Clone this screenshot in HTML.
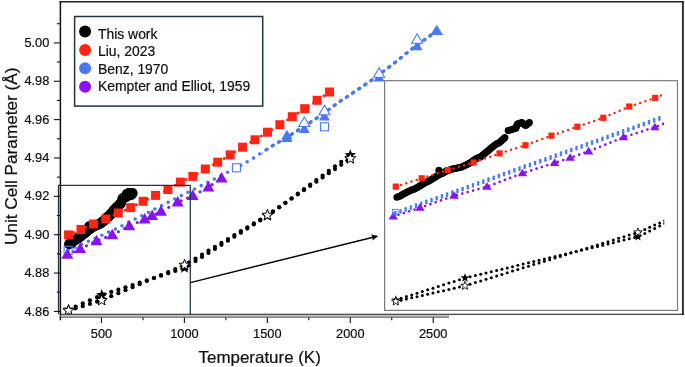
<!DOCTYPE html>
<html><head><meta charset="utf-8"><style>
html,body{margin:0;padding:0;background:#fff;}
svg{display:block;will-change:transform;}
text{font-family:"Liberation Sans",sans-serif;fill:#111;stroke:#111;stroke-width:0.22px;}
.tl{font-size:12.8px;}
.at{font-size:16.5px;}
.lg{font-size:13.9px;}
</style></head><body>
<svg width="685" height="367" viewBox="0 0 685 367">
<defs><clipPath id="cm"><rect x="60" y="2" width="622" height="312"/></clipPath><clipPath id="cb"><rect x="262" y="0" width="200" height="200"/></clipPath><clipPath id="ci"><rect x="385.2" y="81.3" width="279" height="228.5"/></clipPath><marker id="ah" viewBox="0 0 10 10" refX="8.5" refY="5" markerUnits="userSpaceOnUse" markerWidth="6.5" markerHeight="6.5" orient="auto"><path d="M0 0.3 L10 5 L0 9.7 L1.5 5 z" fill="#000"/></marker></defs>
<g clip-path="url(#cm)">
<circle cx="68.56" cy="309.63" r="2.1" fill="#000"/><circle cx="68.56" cy="310.59" r="2.1" fill="#000"/><circle cx="75.67" cy="306.51" r="2.1" fill="#000"/><circle cx="75.67" cy="308.37" r="2.1" fill="#000"/><circle cx="82.79" cy="303.39" r="2.1" fill="#000"/><circle cx="82.79" cy="306.16" r="2.1" fill="#000"/><circle cx="89.91" cy="300.27" r="2.1" fill="#000"/><circle cx="89.91" cy="303.94" r="2.1" fill="#000"/><circle cx="97.02" cy="297.15" r="2.1" fill="#000"/><circle cx="97.02" cy="301.72" r="2.1" fill="#000"/><circle cx="104.14" cy="294.3" r="2.1" fill="#000"/><circle cx="104.14" cy="299.23" r="2.1" fill="#000"/><circle cx="111.25" cy="291.97" r="2.1" fill="#000"/><circle cx="111.25" cy="296.21" r="2.1" fill="#000"/><circle cx="118.36" cy="289.64" r="2.1" fill="#000"/><circle cx="118.36" cy="293.19" r="2.1" fill="#000"/><circle cx="125.48" cy="287.31" r="2.1" fill="#000"/><circle cx="125.48" cy="290.17" r="2.1" fill="#000"/><circle cx="132.59" cy="284.98" r="2.1" fill="#000"/><circle cx="132.59" cy="287.15" r="2.1" fill="#000"/><circle cx="139.7" cy="282.65" r="2.1" fill="#000"/><circle cx="139.7" cy="284.13" r="2.1" fill="#000"/><circle cx="146.82" cy="280.32" r="2.1" fill="#000"/><circle cx="146.82" cy="281.11" r="2.1" fill="#000"/><circle cx="153.93" cy="277.99" r="2.1" fill="#000"/><circle cx="153.93" cy="278.09" r="2.1" fill="#000"/><circle cx="161.04" cy="275.66" r="2.1" fill="#000"/><circle cx="161.04" cy="275.07" r="2.1" fill="#000"/><circle cx="168.16" cy="273.33" r="2.1" fill="#000"/><circle cx="168.16" cy="272.05" r="2.1" fill="#000"/><circle cx="175.27" cy="271" r="2.1" fill="#000"/><circle cx="175.27" cy="269.03" r="2.1" fill="#000"/><circle cx="182.39" cy="268.67" r="2.1" fill="#000"/><circle cx="182.39" cy="266.01" r="2.1" fill="#000"/><circle cx="189.06" cy="265.13" r="2.1" fill="#000"/><circle cx="189.06" cy="262.38" r="2.1" fill="#000"/><circle cx="195.53" cy="261.07" r="2.1" fill="#000"/><circle cx="195.53" cy="258.48" r="2.1" fill="#000"/><circle cx="202" cy="257.01" r="2.1" fill="#000"/><circle cx="202" cy="254.58" r="2.1" fill="#000"/><circle cx="208.48" cy="252.95" r="2.1" fill="#000"/><circle cx="208.48" cy="250.68" r="2.1" fill="#000"/><circle cx="214.95" cy="248.88" r="2.1" fill="#000"/><circle cx="214.95" cy="246.79" r="2.1" fill="#000"/><circle cx="221.43" cy="244.82" r="2.1" fill="#000"/><circle cx="221.43" cy="242.89" r="2.1" fill="#000"/><circle cx="227.9" cy="240.76" r="2.1" fill="#000"/><circle cx="227.9" cy="238.99" r="2.1" fill="#000"/><circle cx="234.37" cy="236.69" r="2.1" fill="#000"/><circle cx="234.37" cy="235.09" r="2.1" fill="#000"/><circle cx="240.85" cy="232.63" r="2.1" fill="#000"/><circle cx="240.85" cy="231.19" r="2.1" fill="#000"/><circle cx="247.32" cy="228.57" r="2.1" fill="#000"/><circle cx="247.32" cy="227.29" r="2.1" fill="#000"/><circle cx="253.8" cy="224.5" r="2.1" fill="#000"/><circle cx="253.8" cy="223.39" r="2.1" fill="#000"/><circle cx="260.27" cy="220.44" r="2.1" fill="#000"/><circle cx="260.27" cy="219.49" r="2.1" fill="#000"/><circle cx="266.74" cy="216.38" r="2.1" fill="#000"/><circle cx="266.74" cy="215.6" r="2.1" fill="#000"/><circle cx="272.97" cy="211.88" r="2.1" fill="#000"/><circle cx="272.97" cy="211.4" r="2.1" fill="#000"/><circle cx="279.18" cy="207.33" r="2.1" fill="#000"/><circle cx="279.18" cy="207.16" r="2.1" fill="#000"/><circle cx="285.38" cy="202.78" r="2.1" fill="#000"/><circle cx="285.38" cy="202.92" r="2.1" fill="#000"/><circle cx="291.58" cy="198.23" r="2.1" fill="#000"/><circle cx="291.58" cy="198.69" r="2.1" fill="#000"/><circle cx="297.78" cy="193.68" r="2.1" fill="#000"/><circle cx="297.78" cy="194.45" r="2.1" fill="#000"/><circle cx="303.98" cy="189.13" r="2.1" fill="#000"/><circle cx="303.98" cy="190.22" r="2.1" fill="#000"/><circle cx="310.18" cy="184.58" r="2.1" fill="#000"/><circle cx="310.18" cy="185.98" r="2.1" fill="#000"/><circle cx="316.39" cy="180.03" r="2.1" fill="#000"/><circle cx="316.39" cy="181.75" r="2.1" fill="#000"/><circle cx="322.59" cy="175.48" r="2.1" fill="#000"/><circle cx="322.59" cy="177.51" r="2.1" fill="#000"/><circle cx="328.79" cy="170.92" r="2.1" fill="#000"/><circle cx="328.79" cy="173.27" r="2.1" fill="#000"/><circle cx="334.99" cy="166.37" r="2.1" fill="#000"/><circle cx="334.99" cy="169.04" r="2.1" fill="#000"/><circle cx="341.19" cy="161.82" r="2.1" fill="#000"/><circle cx="341.19" cy="164.8" r="2.1" fill="#000"/><circle cx="347.39" cy="157.27" r="2.1" fill="#000"/><circle cx="347.39" cy="160.57" r="2.1" fill="#000"/>
<path d="M68.1 250.3 L102.9 234.8 L116.4 228.6 L184.1 194.2 L211.9 180.2 L236.4 167.8 L250.9 159.8 L270 147.4 L294.5 132.6 L318.2 117.3 L337.4 103.2 L369.3 81.9 L393.8 63.5 L411 49.5 L436.7 31" fill="none" stroke="#4A78F0" stroke-width="3.6" stroke-linecap="round" stroke-dasharray="0 7.4"/>
<g clip-path="url(#cb)"><path d="M68.1 250.3 L102.9 234.8 L116.4 228.6 L184.1 194.2 L211.9 180.2 L236.4 167.8 L250.9 159.8 L270 147.4 L294.5 132.6 L318.2 117.3 L337.4 103.2 L369.3 81.9 L393.8 63.5 L411 49.5 L436.7 31" transform="translate(1.1,-0.8)" fill="none" stroke="#4A78F0" stroke-width="3.6" stroke-linecap="round" stroke-dasharray="0 7.4"/></g>
<path d="M67.31 254.59 L80.15 248.85 L96.54 240.94 L112.25 234.94 L129.26 226.04 L144.64 219.25 L152.12 215.89 L160.93 211.67 L177.65 202.37 L192.7 195.71 L208.4 187.2 L221.6 178.3" fill="none" stroke="#8A12F2" stroke-width="3.2" stroke-linecap="round" stroke-dasharray="0 7" />
<circle cx="69.08" cy="244.06" r="5.1" fill="#000"/>
<circle cx="69.87" cy="243.63" r="5.1" fill="#000"/>
<circle cx="70.66" cy="243.21" r="5.1" fill="#000"/>
<circle cx="71.43" cy="242.61" r="5.1" fill="#000"/>
<circle cx="72.2" cy="242.02" r="5.1" fill="#000"/>
<circle cx="72.96" cy="241.43" r="5.1" fill="#000"/>
<circle cx="73.76" cy="240.88" r="5.1" fill="#000"/>
<circle cx="74.56" cy="240.33" r="5.1" fill="#000"/>
<circle cx="75.36" cy="239.78" r="5.1" fill="#000"/>
<circle cx="76.08" cy="239.38" r="5.1" fill="#000"/>
<circle cx="76.8" cy="238.99" r="5.1" fill="#000"/>
<circle cx="77.52" cy="238.59" r="5.1" fill="#000"/>
<circle cx="78.28" cy="238.02" r="5.1" fill="#000"/>
<circle cx="79.05" cy="237.45" r="5.1" fill="#000"/>
<circle cx="79.82" cy="236.88" r="5.1" fill="#000"/>
<circle cx="80.38" cy="236.36" r="5.1" fill="#000"/>
<circle cx="80.94" cy="235.85" r="5.1" fill="#000"/>
<circle cx="81.5" cy="235.34" r="5.1" fill="#000"/>
<circle cx="82.07" cy="234.83" r="5.1" fill="#000"/>
<circle cx="82.85" cy="234.37" r="5.1" fill="#000"/>
<circle cx="83.63" cy="233.91" r="5.1" fill="#000"/>
<circle cx="84.42" cy="233.45" r="5.1" fill="#000"/>
<circle cx="85.17" cy="232.79" r="5.1" fill="#000"/>
<circle cx="85.92" cy="232.13" r="5.1" fill="#000"/>
<circle cx="86.67" cy="231.47" r="5.1" fill="#000"/>
<circle cx="87.37" cy="230.85" r="5.1" fill="#000"/>
<circle cx="88.07" cy="230.24" r="5.1" fill="#000"/>
<circle cx="88.78" cy="229.62" r="5.1" fill="#000"/>
<circle cx="89.41" cy="229.23" r="5.1" fill="#000"/>
<circle cx="90.05" cy="228.83" r="5.1" fill="#000"/>
<circle cx="90.69" cy="228.44" r="5.1" fill="#000"/>
<circle cx="91.41" cy="227.89" r="5.1" fill="#000"/>
<circle cx="92.13" cy="227.34" r="5.1" fill="#000"/>
<circle cx="92.85" cy="226.79" r="5.1" fill="#000"/>
<circle cx="93.69" cy="226.39" r="5.1" fill="#000"/>
<circle cx="94.54" cy="226" r="5.1" fill="#000"/>
<circle cx="95.39" cy="225.57" r="5.1" fill="#000"/>
<circle cx="96.17" cy="225.27" r="5.1" fill="#000"/>
<circle cx="96.95" cy="224.98" r="5.1" fill="#000"/>
<circle cx="97.74" cy="224.68" r="5.1" fill="#000"/>
<circle cx="98.52" cy="224.35" r="5.1" fill="#000"/>
<circle cx="99.3" cy="224.01" r="5.1" fill="#000"/>
<circle cx="100.08" cy="223.67" r="5.1" fill="#000"/>
<circle cx="100.87" cy="223.09" r="5.1" fill="#000"/>
<circle cx="101.65" cy="222.51" r="5.1" fill="#000"/>
<circle cx="102.43" cy="221.94" r="5.1" fill="#000"/>
<circle cx="103.09" cy="221.39" r="5.1" fill="#000"/>
<circle cx="103.74" cy="220.85" r="5.1" fill="#000"/>
<circle cx="104.4" cy="220.3" r="5.1" fill="#000"/>
<circle cx="105.07" cy="219.58" r="5.1" fill="#000"/>
<circle cx="105.74" cy="218.86" r="5.1" fill="#000"/>
<circle cx="106.41" cy="218.13" r="5.1" fill="#000"/>
<circle cx="107.08" cy="217.41" r="5.1" fill="#000"/>
<circle cx="107.73" cy="217.02" r="5.1" fill="#000"/>
<circle cx="108.39" cy="216.63" r="5.1" fill="#000"/>
<circle cx="109.04" cy="216.24" r="5.1" fill="#000"/>
<circle cx="109.7" cy="215.45" r="5.1" fill="#000"/>
<circle cx="110.35" cy="214.66" r="5.1" fill="#000"/>
<circle cx="111.01" cy="213.88" r="5.1" fill="#000"/>
<circle cx="111.65" cy="213.09" r="5.1" fill="#000"/>
<circle cx="112.28" cy="212.33" r="5.1" fill="#000"/>
<circle cx="112.92" cy="211.61" r="5.1" fill="#000"/>
<circle cx="113.58" cy="210.84" r="5.1" fill="#000"/>
<circle cx="114.23" cy="210.07" r="5.1" fill="#000"/>
<circle cx="114.89" cy="209.3" r="5.1" fill="#000"/>
<circle cx="115.54" cy="208.62" r="5.1" fill="#000"/>
<circle cx="116.2" cy="207.94" r="5.1" fill="#000"/>
<circle cx="116.85" cy="207.26" r="5.1" fill="#000"/>
<circle cx="117.55" cy="206.83" r="5.1" fill="#000"/>
<circle cx="118.24" cy="206.4" r="5.1" fill="#000"/>
<circle cx="118.76" cy="205.75" r="5.1" fill="#000"/>
<circle cx="119.28" cy="205.11" r="5.1" fill="#000"/>
<circle cx="119.79" cy="204.46" r="5.1" fill="#000"/>
<circle cx="120.31" cy="203.81" r="5.1" fill="#000"/>
<circle cx="120.83" cy="203.17" r="5.1" fill="#000"/>
<circle cx="122.41" cy="198.49" r="5.1" fill="#000"/>
<circle cx="123.32" cy="198.12" r="5.1" fill="#000"/>
<circle cx="124.23" cy="197.76" r="5.1" fill="#000"/>
<circle cx="125.14" cy="197.4" r="5.1" fill="#000"/>
<circle cx="126.05" cy="197.04" r="5.1" fill="#000"/>
<circle cx="126.31" cy="196.09" r="5.1" fill="#000"/>
<circle cx="126.56" cy="195.15" r="5.1" fill="#000"/>
<circle cx="126.82" cy="194.2" r="5.1" fill="#000"/>
<circle cx="127.52" cy="193.85" r="5.1" fill="#000"/>
<circle cx="128.22" cy="193.5" r="5.1" fill="#000"/>
<circle cx="128.93" cy="193.15" r="5.1" fill="#000"/>
<circle cx="129.53" cy="193.85" r="5.1" fill="#000"/>
<circle cx="130.14" cy="194.55" r="5.1" fill="#000"/>
<circle cx="130.75" cy="195.26" r="5.1" fill="#000"/>
<circle cx="131.35" cy="194.55" r="5.1" fill="#000"/>
<circle cx="131.96" cy="193.85" r="5.1" fill="#000"/>
<circle cx="132.57" cy="193.15" r="5.1" fill="#000"/>
<circle cx="89.21" cy="226.26" r="5.1" fill="#000"/>
<path d="M68.56 234.9 L80.99 229.4 L93.42 224 L105.85 219 L118.28 213 L130.71 207.6 L143.13 201.3 L155.56 195.4 L167.99 189.5 L180.42 182.1 L192.85 176.4 L205.28 169 L217.71 162.2 L230.14 154.9 L242.57 147.2 L255 139.8 L267.43 132.2 L279.86 124.7 L292.29 116.7 L304.72 108.7 L317.15 100.3 L329.58 92" fill="none" stroke="#FF2414" stroke-width="3" stroke-linecap="round" stroke-dasharray="0 6.2" />
<rect x="64.1" y="246.3" width="8" height="8" fill="none" stroke="#4A78F0" stroke-width="1.1"/>
<rect x="232.4" y="163.8" width="8" height="8" fill="#fff" stroke="#4A78F0" stroke-width="1.1"/>
<rect x="320.5" y="122.8" width="8" height="8" fill="#fff" stroke="#4A78F0" stroke-width="1.1"/>
<polygon points="286.9,129.8 281.4,139.3 292.4,139.3" fill="#4A78F0"/>
<polygon points="286.9,132.6 281.15,142.1 292.65,142.1" fill="#4A78F0"/>
<polygon points="304.3,123.6 298.8,133.1 309.8,133.1" fill="#4A78F0"/>
<polygon points="304.3,117 298.8,126.5 309.8,126.5" fill="#fff" stroke="#4A78F0" stroke-width="1.1" stroke-linejoin="miter"/>
<polygon points="324.5,110.9 319,120.4 330,120.4" fill="#4A78F0"/>
<polygon points="324.5,105.2 319,114.7 330,114.7" fill="#fff" stroke="#4A78F0" stroke-width="1.1" stroke-linejoin="miter"/>
<polygon points="379.1,71.9 373.6,81.4 384.6,81.4" fill="#4A78F0"/>
<polygon points="379.1,67.7 373.6,77.2 384.6,77.2" fill="#fff" stroke="#4A78F0" stroke-width="1.1" stroke-linejoin="miter"/>
<polygon points="417.1,40.7 411.6,50.2 422.6,50.2" fill="#4A78F0"/>
<polygon points="417.1,33.8 411.6,43.3 422.6,43.3" fill="#fff" stroke="#4A78F0" stroke-width="1.1" stroke-linejoin="miter"/>
<polygon points="436.7,24.68 430.4,34.88 443,34.88" fill="#4A78F0"/>
<polygon points="67.31,248.29 61.31,258.79 73.31,258.79" fill="#8A12F2"/>
<polygon points="80.15,242.55 74.15,253.05 86.15,253.05" fill="#8A12F2"/>
<polygon points="96.54,234.64 90.54,245.14 102.54,245.14" fill="#8A12F2"/>
<polygon points="112.25,228.64 106.25,239.14 118.25,239.14" fill="#8A12F2"/>
<polygon points="129.26,219.74 123.26,230.24 135.26,230.24" fill="#8A12F2"/>
<polygon points="144.64,212.95 138.64,223.45 150.64,223.45" fill="#8A12F2"/>
<polygon points="152.12,209.59 146.12,220.09 158.12,220.09" fill="#8A12F2"/>
<polygon points="160.93,205.37 154.93,215.87 166.93,215.87" fill="#8A12F2"/>
<polygon points="177.65,196.07 171.65,206.57 183.65,206.57" fill="#8A12F2"/>
<polygon points="192.7,189.41 186.7,199.91 198.7,199.91" fill="#8A12F2"/>
<polygon points="208.4,180.9 202.4,191.4 214.4,191.4" fill="#8A12F2"/>
<polygon points="221.6,172 215.6,182.5 227.6,182.5" fill="#8A12F2"/>
<rect x="64.06" y="230.4" width="9" height="9" fill="#FF2414"/>
<rect x="76.49" y="224.9" width="9" height="9" fill="#FF2414"/>
<rect x="88.92" y="219.5" width="9" height="9" fill="#FF2414"/>
<rect x="101.35" y="214.5" width="9" height="9" fill="#FF2414"/>
<rect x="113.78" y="208.5" width="9" height="9" fill="#FF2414"/>
<rect x="126.21" y="203.1" width="9" height="9" fill="#FF2414"/>
<rect x="138.63" y="196.8" width="9" height="9" fill="#FF2414"/>
<rect x="151.06" y="190.9" width="9" height="9" fill="#FF2414"/>
<rect x="163.49" y="185" width="9" height="9" fill="#FF2414"/>
<rect x="175.92" y="177.6" width="9" height="9" fill="#FF2414"/>
<rect x="188.35" y="171.9" width="9" height="9" fill="#FF2414"/>
<rect x="200.78" y="164.5" width="9" height="9" fill="#FF2414"/>
<rect x="213.21" y="157.7" width="9" height="9" fill="#FF2414"/>
<rect x="225.64" y="150.4" width="9" height="9" fill="#FF2414"/>
<rect x="238.07" y="142.7" width="9" height="9" fill="#FF2414"/>
<rect x="250.5" y="135.3" width="9" height="9" fill="#FF2414"/>
<rect x="262.93" y="127.7" width="9" height="9" fill="#FF2414"/>
<rect x="275.36" y="120.2" width="9" height="9" fill="#FF2414"/>
<rect x="287.79" y="112.2" width="9" height="9" fill="#FF2414"/>
<rect x="300.22" y="104.2" width="9" height="9" fill="#FF2414"/>
<rect x="312.65" y="95.8" width="9" height="9" fill="#FF2414"/>
<rect x="325.08" y="87.5" width="9" height="9" fill="#FF2414"/>
<polygon points="68.56,303.63 70.04,307.59 74.26,307.78 70.95,310.41 72.08,314.49 68.56,312.15 65.03,314.49 66.16,310.41 62.85,307.78 67.08,307.59" fill="#000"/>
<polygon points="101.7,289.1 103.18,293.06 107.41,293.25 104.1,295.88 105.23,299.96 101.7,297.62 98.18,299.96 99.31,295.88 96,293.25 100.22,293.06" fill="#000"/>
<polygon points="184.57,261.95 186.05,265.91 190.27,266.1 186.96,268.73 188.09,272.81 184.57,270.47 181.04,272.81 182.17,268.73 178.86,266.1 183.09,265.91" fill="#000"/>
<polygon points="267.43,209.94 268.91,213.91 273.14,214.09 269.83,216.72 270.96,220.8 267.43,218.46 263.91,220.8 265.04,216.72 261.73,214.09 265.95,213.91" fill="#000"/>
<polygon points="350.3,149.14 351.78,153.1 356,153.29 352.69,155.92 353.82,160 350.3,157.66 346.77,160 347.9,155.92 344.59,153.29 348.82,153.1" fill="#000"/>
<polygon points="68.56,304.79 69.99,308.62 74.07,308.8 70.87,311.34 71.97,315.28 68.56,313.02 65.15,315.28 66.24,311.34 63.04,308.8 67.12,308.62" fill="#fff" stroke="#000" stroke-width="1" stroke-linejoin="miter"/>
<polygon points="101.7,294.46 103.13,298.29 107.22,298.47 104.02,301.02 105.11,304.96 101.7,302.7 98.29,304.96 99.39,301.02 96.19,298.47 100.27,298.29" fill="#fff" stroke="#000" stroke-width="1" stroke-linejoin="miter"/>
<polygon points="184.57,259.28 186,263.11 190.08,263.29 186.88,265.84 187.98,269.78 184.57,267.52 181.16,269.78 182.25,265.84 179.05,263.29 183.14,263.11" fill="#fff" stroke="#000" stroke-width="1" stroke-linejoin="miter"/>
<polygon points="267.43,209.38 268.86,213.21 272.95,213.39 269.75,215.93 270.84,219.87 267.43,217.62 264.02,219.87 265.12,215.93 261.92,213.39 266,213.21" fill="#fff" stroke="#000" stroke-width="1" stroke-linejoin="miter"/>
<polygon points="350.3,152.78 351.73,156.61 355.81,156.79 352.61,159.34 353.71,163.28 350.3,161.02 346.89,163.28 347.98,159.34 344.78,156.79 348.87,156.61" fill="#fff" stroke="#000" stroke-width="1" stroke-linejoin="miter"/>
</g>
<path d="M58.5 314.2 V185.25 H190.3 V314.2" fill="none" stroke="#1C3445" stroke-width="1.25"/>
<line x1="59.6" y1="1.75" x2="683.6" y2="1.75" stroke="#1e1e1e" stroke-width="1.5"/>
<line x1="682.9" y1="1" x2="682.9" y2="315" stroke="#2a2a2a" stroke-width="1.9"/>
<line x1="60" y1="314.3" x2="683.8" y2="314.3" stroke="#111" stroke-width="1.1"/>
<line x1="60.4" y1="1" x2="60.4" y2="320.2" stroke="#111" stroke-width="1.5"/>
<rect x="60.6" y="314.9" width="388.4" height="2.0" fill="#bcbcbc"/>
<line x1="60.6" y1="317.25" x2="449" y2="317.25" stroke="#333" stroke-width="0.8"/>
<line x1="53.9" y1="42.9" x2="60" y2="42.9" stroke="#111" stroke-width="1.1"/>
<text x="49.3" y="47" text-anchor="end" class="tl">5.00</text>
<line x1="53.9" y1="81.26" x2="60" y2="81.26" stroke="#111" stroke-width="1.1"/>
<text x="49.3" y="85.36" text-anchor="end" class="tl">4.98</text>
<line x1="53.9" y1="119.62" x2="60" y2="119.62" stroke="#111" stroke-width="1.1"/>
<text x="49.3" y="123.72" text-anchor="end" class="tl">4.96</text>
<line x1="53.9" y1="157.98" x2="60" y2="157.98" stroke="#111" stroke-width="1.1"/>
<text x="49.3" y="162.08" text-anchor="end" class="tl">4.94</text>
<line x1="53.9" y1="196.34" x2="60" y2="196.34" stroke="#111" stroke-width="1.1"/>
<text x="49.3" y="200.44" text-anchor="end" class="tl">4.92</text>
<line x1="53.9" y1="234.7" x2="60" y2="234.7" stroke="#111" stroke-width="1.1"/>
<text x="49.3" y="238.8" text-anchor="end" class="tl">4.90</text>
<line x1="53.9" y1="273.06" x2="60" y2="273.06" stroke="#111" stroke-width="1.1"/>
<text x="49.3" y="277.16" text-anchor="end" class="tl">4.88</text>
<line x1="53.9" y1="311.42" x2="60" y2="311.42" stroke="#111" stroke-width="1.1"/>
<text x="49.3" y="315.52" text-anchor="end" class="tl">4.86</text>
<line x1="56.9" y1="23.72" x2="60" y2="23.72" stroke="#111" stroke-width="1.1"/>
<line x1="56.9" y1="62.08" x2="60" y2="62.08" stroke="#111" stroke-width="1.1"/>
<line x1="56.9" y1="100.44" x2="60" y2="100.44" stroke="#111" stroke-width="1.1"/>
<line x1="56.9" y1="138.8" x2="60" y2="138.8" stroke="#111" stroke-width="1.1"/>
<line x1="56.9" y1="177.16" x2="60" y2="177.16" stroke="#111" stroke-width="1.1"/>
<line x1="56.9" y1="215.52" x2="60" y2="215.52" stroke="#111" stroke-width="1.1"/>
<line x1="56.9" y1="253.88" x2="60" y2="253.88" stroke="#111" stroke-width="1.1"/>
<line x1="56.9" y1="292.24" x2="60" y2="292.24" stroke="#111" stroke-width="1.1"/>
<line x1="101.47" y1="317.5" x2="101.47" y2="323" stroke="#111" stroke-width="1.1"/>
<text x="101.47" y="337.6" text-anchor="middle" class="tl">500</text>
<line x1="184.4" y1="317.5" x2="184.4" y2="323" stroke="#111" stroke-width="1.1"/>
<text x="184.4" y="337.6" text-anchor="middle" class="tl">1000</text>
<line x1="267.34" y1="317.5" x2="267.34" y2="323" stroke="#111" stroke-width="1.1"/>
<text x="267.34" y="337.6" text-anchor="middle" class="tl">1500</text>
<line x1="350.27" y1="317.5" x2="350.27" y2="323" stroke="#111" stroke-width="1.1"/>
<text x="350.27" y="337.6" text-anchor="middle" class="tl">2000</text>
<line x1="433.21" y1="317.5" x2="433.21" y2="323" stroke="#111" stroke-width="1.1"/>
<text x="433.21" y="337.6" text-anchor="middle" class="tl">2500</text>
<line x1="142.94" y1="317.5" x2="142.94" y2="320.2" stroke="#111" stroke-width="1.1"/>
<line x1="225.87" y1="317.5" x2="225.87" y2="320.2" stroke="#111" stroke-width="1.1"/>
<line x1="308.8" y1="317.5" x2="308.8" y2="320.2" stroke="#111" stroke-width="1.1"/>
<line x1="391.74" y1="317.5" x2="391.74" y2="320.2" stroke="#111" stroke-width="1.1"/>
<text x="259.7" y="363.0" text-anchor="middle" class="at" textLength="122.2" lengthAdjust="spacingAndGlyphs">Temperature (K)</text>
<text transform="translate(16.9,156.3) rotate(-90)" text-anchor="middle" class="at" textLength="177.5" lengthAdjust="spacingAndGlyphs">Unit Cell Parameter (Å)</text>
<line x1="190.3" y1="282.6" x2="377.1" y2="236.2" stroke="#000" stroke-width="1.45" marker-end="url(#ah)"/>
<rect x="384.6" y="80.7" width="292.9" height="229.7" fill="#fff" stroke="#7a7a7a" stroke-width="1.2"/>
<g clip-path="url(#ci)">
<circle cx="395.8" cy="299.99" r="1.5" fill="#000"/><circle cx="395.8" cy="301.44" r="1.5" fill="#000"/><circle cx="401.11" cy="298.3" r="1.5" fill="#000"/><circle cx="401.11" cy="300.24" r="1.5" fill="#000"/><circle cx="406.41" cy="296.61" r="1.5" fill="#000"/><circle cx="406.41" cy="299.04" r="1.5" fill="#000"/><circle cx="411.72" cy="294.92" r="1.5" fill="#000"/><circle cx="411.72" cy="297.84" r="1.5" fill="#000"/><circle cx="417.03" cy="293.23" r="1.5" fill="#000"/><circle cx="417.03" cy="296.64" r="1.5" fill="#000"/><circle cx="422.33" cy="291.54" r="1.5" fill="#000"/><circle cx="422.33" cy="295.43" r="1.5" fill="#000"/><circle cx="427.64" cy="289.85" r="1.5" fill="#000"/><circle cx="427.64" cy="294.23" r="1.5" fill="#000"/><circle cx="432.95" cy="288.16" r="1.5" fill="#000"/><circle cx="432.95" cy="293.03" r="1.5" fill="#000"/><circle cx="438.25" cy="286.47" r="1.5" fill="#000"/><circle cx="438.25" cy="291.83" r="1.5" fill="#000"/><circle cx="443.56" cy="284.77" r="1.5" fill="#000"/><circle cx="443.56" cy="290.63" r="1.5" fill="#000"/><circle cx="448.87" cy="283.08" r="1.5" fill="#000"/><circle cx="448.87" cy="289.43" r="1.5" fill="#000"/><circle cx="454.17" cy="281.39" r="1.5" fill="#000"/><circle cx="454.17" cy="288.23" r="1.5" fill="#000"/><circle cx="459.48" cy="279.7" r="1.5" fill="#000"/><circle cx="459.48" cy="287.03" r="1.5" fill="#000"/><circle cx="464.78" cy="278.01" r="1.5" fill="#000"/><circle cx="464.78" cy="285.82" r="1.5" fill="#000"/><circle cx="470.09" cy="276.73" r="1.5" fill="#000"/><circle cx="470.09" cy="284.2" r="1.5" fill="#000"/><circle cx="475.4" cy="275.47" r="1.5" fill="#000"/><circle cx="475.4" cy="282.57" r="1.5" fill="#000"/><circle cx="480.7" cy="274.21" r="1.5" fill="#000"/><circle cx="480.7" cy="280.93" r="1.5" fill="#000"/><circle cx="486.01" cy="272.94" r="1.5" fill="#000"/><circle cx="486.01" cy="279.29" r="1.5" fill="#000"/><circle cx="491.31" cy="271.68" r="1.5" fill="#000"/><circle cx="491.31" cy="277.66" r="1.5" fill="#000"/><circle cx="496.62" cy="270.42" r="1.5" fill="#000"/><circle cx="496.62" cy="276.02" r="1.5" fill="#000"/><circle cx="501.92" cy="269.15" r="1.5" fill="#000"/><circle cx="501.92" cy="274.38" r="1.5" fill="#000"/><circle cx="507.23" cy="267.89" r="1.5" fill="#000"/><circle cx="507.23" cy="272.75" r="1.5" fill="#000"/><circle cx="512.53" cy="266.63" r="1.5" fill="#000"/><circle cx="512.53" cy="271.11" r="1.5" fill="#000"/><circle cx="517.84" cy="265.36" r="1.5" fill="#000"/><circle cx="517.84" cy="269.47" r="1.5" fill="#000"/><circle cx="523.14" cy="264.1" r="1.5" fill="#000"/><circle cx="523.14" cy="267.83" r="1.5" fill="#000"/><circle cx="528.45" cy="262.84" r="1.5" fill="#000"/><circle cx="528.45" cy="266.2" r="1.5" fill="#000"/><circle cx="533.76" cy="261.57" r="1.5" fill="#000"/><circle cx="533.76" cy="264.56" r="1.5" fill="#000"/><circle cx="539.06" cy="260.31" r="1.5" fill="#000"/><circle cx="539.06" cy="262.92" r="1.5" fill="#000"/><circle cx="544.37" cy="259.05" r="1.5" fill="#000"/><circle cx="544.37" cy="261.29" r="1.5" fill="#000"/><circle cx="549.67" cy="257.78" r="1.5" fill="#000"/><circle cx="549.67" cy="259.65" r="1.5" fill="#000"/><circle cx="554.98" cy="256.52" r="1.5" fill="#000"/><circle cx="554.98" cy="258.01" r="1.5" fill="#000"/><circle cx="560.28" cy="255.26" r="1.5" fill="#000"/><circle cx="560.28" cy="256.38" r="1.5" fill="#000"/><circle cx="565.59" cy="253.99" r="1.5" fill="#000"/><circle cx="565.59" cy="254.74" r="1.5" fill="#000"/><circle cx="570.89" cy="252.73" r="1.5" fill="#000"/><circle cx="570.89" cy="253.1" r="1.5" fill="#000"/><circle cx="576.2" cy="251.47" r="1.5" fill="#000"/><circle cx="576.2" cy="251.47" r="1.5" fill="#000"/><circle cx="581.5" cy="250.21" r="1.5" fill="#000"/><circle cx="581.5" cy="249.83" r="1.5" fill="#000"/><circle cx="586.81" cy="248.94" r="1.5" fill="#000"/><circle cx="586.81" cy="248.19" r="1.5" fill="#000"/><circle cx="592.11" cy="247.68" r="1.5" fill="#000"/><circle cx="592.11" cy="246.56" r="1.5" fill="#000"/><circle cx="597.42" cy="246.42" r="1.5" fill="#000"/><circle cx="597.42" cy="244.92" r="1.5" fill="#000"/><circle cx="602.73" cy="245.15" r="1.5" fill="#000"/><circle cx="602.73" cy="243.28" r="1.5" fill="#000"/><circle cx="608.03" cy="243.89" r="1.5" fill="#000"/><circle cx="608.03" cy="241.64" r="1.5" fill="#000"/><circle cx="613.34" cy="242.63" r="1.5" fill="#000"/><circle cx="613.34" cy="240.01" r="1.5" fill="#000"/><circle cx="618.64" cy="241.36" r="1.5" fill="#000"/><circle cx="618.64" cy="238.37" r="1.5" fill="#000"/><circle cx="623.95" cy="240.1" r="1.5" fill="#000"/><circle cx="623.95" cy="236.73" r="1.5" fill="#000"/><circle cx="629.25" cy="238.84" r="1.5" fill="#000"/><circle cx="629.25" cy="235.1" r="1.5" fill="#000"/><circle cx="634.56" cy="237.57" r="1.5" fill="#000"/><circle cx="634.56" cy="233.46" r="1.5" fill="#000"/><circle cx="639.75" cy="235.87" r="1.5" fill="#000"/><circle cx="639.75" cy="231.63" r="1.5" fill="#000"/><circle cx="644.73" cy="233.4" r="1.5" fill="#000"/><circle cx="644.73" cy="229.44" r="1.5" fill="#000"/><circle cx="649.71" cy="230.92" r="1.5" fill="#000"/><circle cx="649.71" cy="227.26" r="1.5" fill="#000"/><circle cx="654.7" cy="228.45" r="1.5" fill="#000"/><circle cx="654.7" cy="225.08" r="1.5" fill="#000"/><circle cx="659.68" cy="225.97" r="1.5" fill="#000"/><circle cx="659.68" cy="222.9" r="1.5" fill="#000"/><circle cx="664.66" cy="223.5" r="1.5" fill="#000"/><circle cx="664.66" cy="220.72" r="1.5" fill="#000"/><circle cx="669.65" cy="221.03" r="1.5" fill="#000"/><circle cx="669.65" cy="218.54" r="1.5" fill="#000"/><circle cx="674.63" cy="218.55" r="1.5" fill="#000"/><circle cx="674.63" cy="216.36" r="1.5" fill="#000"/><circle cx="679.61" cy="216.08" r="1.5" fill="#000"/><circle cx="679.61" cy="214.18" r="1.5" fill="#000"/><circle cx="684.6" cy="213.61" r="1.5" fill="#000"/><circle cx="684.6" cy="212" r="1.5" fill="#000"/><circle cx="689.58" cy="211.13" r="1.5" fill="#000"/><circle cx="689.58" cy="209.82" r="1.5" fill="#000"/>
<path d="M395.3 212.1 L664 115.8" fill="none" stroke="#4A78F0" stroke-width="2.7" stroke-linecap="round" stroke-dasharray="0 5.5" />
<path d="M395.3 214.2 L664 117.9" fill="none" stroke="#4A78F0" stroke-width="2.7" stroke-linecap="round" stroke-dasharray="0 5.5" />
<path d="M393.2 216.5 L420 207.8 L454.2 195.8 L487 186.7 L522.5 173.2 L554.6 162.9 L570.2 157.8 L588.6 151.4 L623.5 137.3 L654.9 127.2 L687.67 114.29 L715.22 100.79" fill="none" stroke="#8A12F2" stroke-width="2.7" stroke-linecap="round" stroke-dasharray="0 5.6" />
<circle cx="396.9" cy="197.2" r="3.5" fill="#000"/>
<circle cx="398.55" cy="196.55" r="3.5" fill="#000"/>
<circle cx="400.2" cy="195.9" r="3.5" fill="#000"/>
<circle cx="401.8" cy="195" r="3.5" fill="#000"/>
<circle cx="403.4" cy="194.1" r="3.5" fill="#000"/>
<circle cx="405" cy="193.2" r="3.5" fill="#000"/>
<circle cx="406.67" cy="192.37" r="3.5" fill="#000"/>
<circle cx="408.33" cy="191.53" r="3.5" fill="#000"/>
<circle cx="410" cy="190.7" r="3.5" fill="#000"/>
<circle cx="411.5" cy="190.1" r="3.5" fill="#000"/>
<circle cx="413" cy="189.5" r="3.5" fill="#000"/>
<circle cx="414.5" cy="188.9" r="3.5" fill="#000"/>
<circle cx="416.1" cy="188.03" r="3.5" fill="#000"/>
<circle cx="417.7" cy="187.17" r="3.5" fill="#000"/>
<circle cx="419.3" cy="186.3" r="3.5" fill="#000"/>
<circle cx="420.48" cy="185.53" r="3.5" fill="#000"/>
<circle cx="421.65" cy="184.75" r="3.5" fill="#000"/>
<circle cx="422.82" cy="183.97" r="3.5" fill="#000"/>
<circle cx="424" cy="183.2" r="3.5" fill="#000"/>
<circle cx="425.63" cy="182.5" r="3.5" fill="#000"/>
<circle cx="427.27" cy="181.8" r="3.5" fill="#000"/>
<circle cx="428.9" cy="181.1" r="3.5" fill="#000"/>
<circle cx="430.47" cy="180.1" r="3.5" fill="#000"/>
<circle cx="432.03" cy="179.1" r="3.5" fill="#000"/>
<circle cx="433.6" cy="178.1" r="3.5" fill="#000"/>
<circle cx="435.07" cy="177.17" r="3.5" fill="#000"/>
<circle cx="436.53" cy="176.23" r="3.5" fill="#000"/>
<circle cx="438" cy="175.3" r="3.5" fill="#000"/>
<circle cx="439.33" cy="174.7" r="3.5" fill="#000"/>
<circle cx="440.67" cy="174.1" r="3.5" fill="#000"/>
<circle cx="442" cy="173.5" r="3.5" fill="#000"/>
<circle cx="443.5" cy="172.67" r="3.5" fill="#000"/>
<circle cx="445" cy="171.83" r="3.5" fill="#000"/>
<circle cx="446.5" cy="171" r="3.5" fill="#000"/>
<circle cx="448.27" cy="170.4" r="3.5" fill="#000"/>
<circle cx="450.03" cy="169.8" r="3.5" fill="#000"/>
<circle cx="451.8" cy="169.2" r="3.5" fill="#000"/>
<circle cx="453.43" cy="168.87" r="3.5" fill="#000"/>
<circle cx="455.07" cy="168.53" r="3.5" fill="#000"/>
<circle cx="456.7" cy="168.2" r="3.5" fill="#000"/>
<circle cx="458.33" cy="167.8" r="3.5" fill="#000"/>
<circle cx="459.97" cy="167.4" r="3.5" fill="#000"/>
<circle cx="461.6" cy="167" r="3.5" fill="#000"/>
<circle cx="463.23" cy="166.23" r="3.5" fill="#000"/>
<circle cx="464.87" cy="165.47" r="3.5" fill="#000"/>
<circle cx="466.5" cy="164.7" r="3.5" fill="#000"/>
<circle cx="467.87" cy="163.97" r="3.5" fill="#000"/>
<circle cx="469.23" cy="163.23" r="3.5" fill="#000"/>
<circle cx="470.6" cy="162.5" r="3.5" fill="#000"/>
<circle cx="472" cy="161.5" r="3.5" fill="#000"/>
<circle cx="473.4" cy="160.5" r="3.5" fill="#000"/>
<circle cx="474.8" cy="159.5" r="3.5" fill="#000"/>
<circle cx="476.2" cy="158.5" r="3.5" fill="#000"/>
<circle cx="477.57" cy="158" r="3.5" fill="#000"/>
<circle cx="478.93" cy="157.5" r="3.5" fill="#000"/>
<circle cx="480.3" cy="157" r="3.5" fill="#000"/>
<circle cx="481.67" cy="155.9" r="3.5" fill="#000"/>
<circle cx="483.03" cy="154.8" r="3.5" fill="#000"/>
<circle cx="484.4" cy="153.7" r="3.5" fill="#000"/>
<circle cx="485.73" cy="152.6" r="3.5" fill="#000"/>
<circle cx="487.07" cy="151.5" r="3.5" fill="#000"/>
<circle cx="488.4" cy="150.4" r="3.5" fill="#000"/>
<circle cx="489.77" cy="149.23" r="3.5" fill="#000"/>
<circle cx="491.13" cy="148.07" r="3.5" fill="#000"/>
<circle cx="492.5" cy="146.9" r="3.5" fill="#000"/>
<circle cx="493.87" cy="145.87" r="3.5" fill="#000"/>
<circle cx="495.23" cy="144.83" r="3.5" fill="#000"/>
<circle cx="496.6" cy="143.8" r="3.5" fill="#000"/>
<circle cx="498.05" cy="143.15" r="3.5" fill="#000"/>
<circle cx="499.5" cy="142.5" r="3.5" fill="#000"/>
<circle cx="500.58" cy="141.52" r="3.5" fill="#000"/>
<circle cx="501.66" cy="140.54" r="3.5" fill="#000"/>
<circle cx="502.74" cy="139.56" r="3.5" fill="#000"/>
<circle cx="503.82" cy="138.58" r="3.5" fill="#000"/>
<circle cx="504.9" cy="137.6" r="3.5" fill="#000"/>
<circle cx="508.2" cy="130.5" r="3.5" fill="#000"/>
<circle cx="510.1" cy="129.95" r="3.5" fill="#000"/>
<circle cx="512" cy="129.4" r="3.5" fill="#000"/>
<circle cx="513.9" cy="128.85" r="3.5" fill="#000"/>
<circle cx="515.8" cy="128.3" r="3.5" fill="#000"/>
<circle cx="516.33" cy="126.87" r="3.5" fill="#000"/>
<circle cx="516.87" cy="125.43" r="3.5" fill="#000"/>
<circle cx="517.4" cy="124" r="3.5" fill="#000"/>
<circle cx="518.87" cy="123.47" r="3.5" fill="#000"/>
<circle cx="520.33" cy="122.93" r="3.5" fill="#000"/>
<circle cx="521.8" cy="122.4" r="3.5" fill="#000"/>
<circle cx="523.07" cy="123.47" r="3.5" fill="#000"/>
<circle cx="524.33" cy="124.53" r="3.5" fill="#000"/>
<circle cx="525.6" cy="125.6" r="3.5" fill="#000"/>
<circle cx="526.87" cy="124.53" r="3.5" fill="#000"/>
<circle cx="528.13" cy="123.47" r="3.5" fill="#000"/>
<circle cx="529.4" cy="122.4" r="3.5" fill="#000"/>
<circle cx="438.9" cy="170.2" r="3.5" fill="#000"/>
<path d="M395.8 186.64 L421.74 178.3 L447.69 170.11 L473.63 162.52 L499.57 153.42 L525.51 145.23 L551.46 135.68 L577.4 126.73 L603.34 117.78 L629.28 106.56 L655.23 97.91 L681.17 86.69 L707.11 76.37 L733.05 65.3 L759 53.62 L784.94 42.4 L810.88 30.87 L836.82 19.5 L862.76 7.36 L888.71 -4.77 L914.65 -17.51 L940.59 -30.1" fill="none" stroke="#FF2414" stroke-width="2.5" stroke-linecap="round" stroke-dasharray="0 5.5" />
<polygon points="393.2,211.94 388.5,219.54 397.9,219.54" fill="#8A12F2"/>
<polygon points="420,203.24 415.3,210.84 424.7,210.84" fill="#8A12F2"/>
<polygon points="454.2,191.24 449.5,198.84 458.9,198.84" fill="#8A12F2"/>
<polygon points="487,182.14 482.3,189.74 491.7,189.74" fill="#8A12F2"/>
<polygon points="522.5,168.64 517.8,176.24 527.2,176.24" fill="#8A12F2"/>
<polygon points="554.6,158.34 549.9,165.94 559.3,165.94" fill="#8A12F2"/>
<polygon points="570.2,153.24 565.5,160.84 574.9,160.84" fill="#8A12F2"/>
<polygon points="588.6,146.84 583.9,154.44 593.3,154.44" fill="#8A12F2"/>
<polygon points="623.5,132.74 618.8,140.34 628.2,140.34" fill="#8A12F2"/>
<polygon points="654.9,122.64 650.2,130.24 659.6,130.24" fill="#8A12F2"/>
<polygon points="687.67,109.73 682.97,117.33 692.37,117.33" fill="#8A12F2"/>
<polygon points="715.22,96.23 710.52,103.83 719.92,103.83" fill="#8A12F2"/>
<rect x="392.55" y="209.35" width="5.5" height="5.5" fill="none" stroke="#4A78F0" stroke-width="0.9"/>
<rect x="392.7" y="183.54" width="6.2" height="6.2" fill="#FF2414"/>
<rect x="418.64" y="175.2" width="6.2" height="6.2" fill="#FF2414"/>
<rect x="444.58" y="167.01" width="6.2" height="6.2" fill="#FF2414"/>
<rect x="470.53" y="159.42" width="6.2" height="6.2" fill="#FF2414"/>
<rect x="496.47" y="150.32" width="6.2" height="6.2" fill="#FF2414"/>
<rect x="522.41" y="142.13" width="6.2" height="6.2" fill="#FF2414"/>
<rect x="548.36" y="132.58" width="6.2" height="6.2" fill="#FF2414"/>
<rect x="574.3" y="123.63" width="6.2" height="6.2" fill="#FF2414"/>
<rect x="600.24" y="114.68" width="6.2" height="6.2" fill="#FF2414"/>
<rect x="626.18" y="103.46" width="6.2" height="6.2" fill="#FF2414"/>
<rect x="652.12" y="94.81" width="6.2" height="6.2" fill="#FF2414"/>
<rect x="678.07" y="83.59" width="6.2" height="6.2" fill="#FF2414"/>
<rect x="704.01" y="73.27" width="6.2" height="6.2" fill="#FF2414"/>
<rect x="729.95" y="62.2" width="6.2" height="6.2" fill="#FF2414"/>
<rect x="755.89" y="50.52" width="6.2" height="6.2" fill="#FF2414"/>
<rect x="781.84" y="39.3" width="6.2" height="6.2" fill="#FF2414"/>
<rect x="807.78" y="27.77" width="6.2" height="6.2" fill="#FF2414"/>
<rect x="833.72" y="16.4" width="6.2" height="6.2" fill="#FF2414"/>
<rect x="859.66" y="4.26" width="6.2" height="6.2" fill="#FF2414"/>
<rect x="885.61" y="-7.87" width="6.2" height="6.2" fill="#FF2414"/>
<rect x="911.55" y="-20.61" width="6.2" height="6.2" fill="#FF2414"/>
<rect x="937.49" y="-33.2" width="6.2" height="6.2" fill="#FF2414"/>
<polygon points="395.8,295.29 396.96,298.39 400.27,298.54 397.68,300.6 398.56,303.79 395.8,301.96 393.04,303.79 393.92,300.6 391.33,298.54 394.64,298.39" fill="#000"/>
<polygon points="464.98,273.25 466.14,276.35 469.45,276.5 466.86,278.56 467.74,281.75 464.98,279.92 462.22,281.75 463.1,278.56 460.51,276.5 463.82,276.35" fill="#000"/>
<polygon points="637.93,232.07 639.09,235.17 642.4,235.32 639.81,237.38 640.69,240.57 637.93,238.74 635.17,240.57 636.05,237.38 633.46,235.32 636.77,235.17" fill="#000"/>
<polygon points="810.88,153.19 812.04,156.29 815.35,156.44 812.76,158.5 813.64,161.69 810.88,159.86 808.12,161.69 809,158.5 806.41,156.44 809.72,156.29" fill="#000"/>
<polygon points="983.83,60.97 984.99,64.07 988.3,64.22 985.71,66.28 986.59,69.47 983.83,67.64 981.07,69.47 981.95,66.28 979.36,64.22 982.67,64.07" fill="#000"/>
<polygon points="395.8,296.94 396.91,299.91 400.08,300.05 397.6,302.02 398.45,305.08 395.8,303.33 393.15,305.08 394,302.02 391.52,300.05 394.69,299.91" fill="#fff" stroke="#000" stroke-width="0.85" stroke-linejoin="miter"/>
<polygon points="464.98,281.28 466.09,284.25 469.26,284.39 466.78,286.36 467.63,289.42 464.98,287.67 462.33,289.42 463.18,286.36 460.7,284.39 463.87,284.25" fill="#fff" stroke="#000" stroke-width="0.85" stroke-linejoin="miter"/>
<polygon points="637.93,227.92 639.04,230.89 642.21,231.03 639.73,233 640.58,236.06 637.93,234.31 635.28,236.06 636.13,233 633.65,231.03 636.82,230.89" fill="#fff" stroke="#000" stroke-width="0.85" stroke-linejoin="miter"/>
<polygon points="810.88,152.23 811.99,155.2 815.16,155.34 812.68,157.31 813.53,160.37 810.88,158.62 808.23,160.37 809.08,157.31 806.6,155.34 809.77,155.2" fill="#fff" stroke="#000" stroke-width="0.85" stroke-linejoin="miter"/>
<polygon points="983.83,66.39 984.94,69.36 988.11,69.5 985.63,71.47 986.48,74.53 983.83,72.78 981.18,74.53 982.03,71.47 979.55,69.5 982.72,69.36" fill="#fff" stroke="#000" stroke-width="0.85" stroke-linejoin="miter"/>
</g>
<rect x="74.6" y="16.5" width="188.1" height="89.6" fill="#fff" stroke="#1C3445" stroke-width="1.5"/>
<circle cx="85.1" cy="31.6" r="6" fill="#000"/>
<text x="98.0" y="39" class="lg">This work</text>
<circle cx="85.1" cy="49.95" r="6" fill="#FF2414"/>
<text x="98.0" y="56.37" class="lg">Liu, 2023</text>
<circle cx="85.1" cy="68.3" r="6" fill="#4A78F0"/>
<text x="98.0" y="73.74" class="lg">Benz, 1970</text>
<circle cx="85.1" cy="86.65" r="6" fill="#8A12F2"/>
<text x="98.0" y="91.11" class="lg">Kempter and Elliot, 1959</text>
</svg></body></html>
